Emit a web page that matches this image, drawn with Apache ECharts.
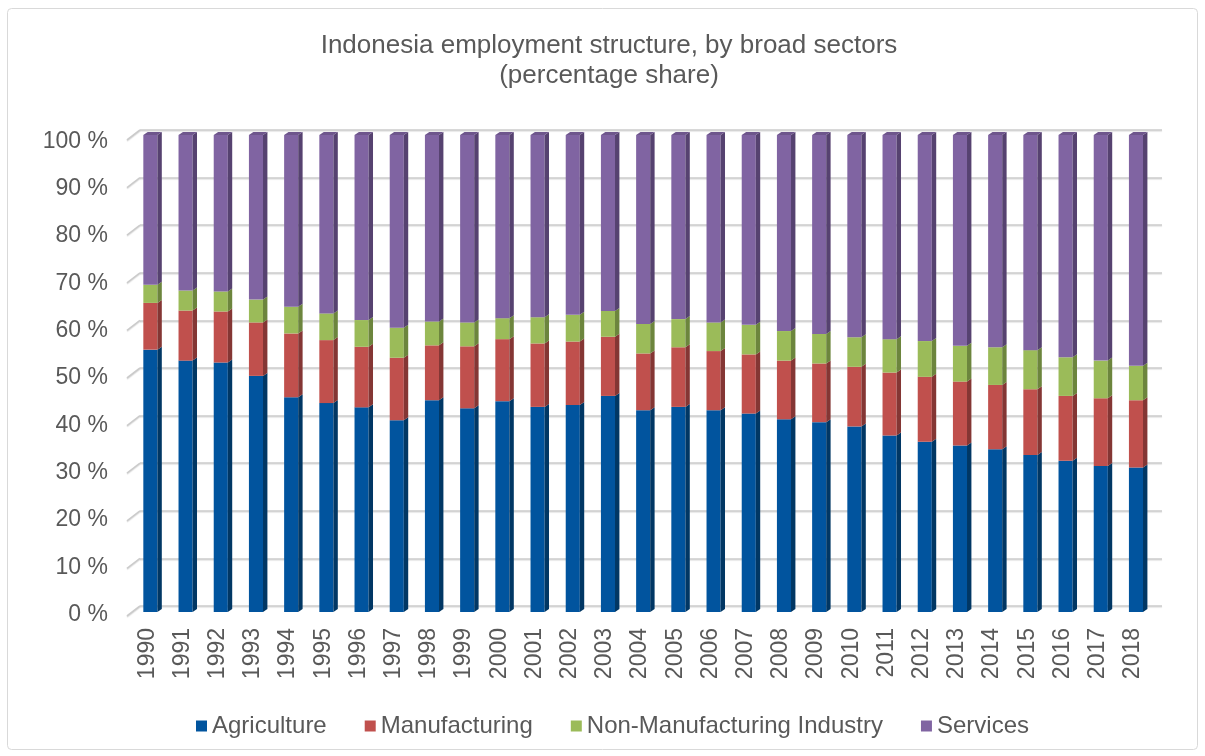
<!DOCTYPE html>
<html>
<head>
<meta charset="utf-8">
<title>Indonesia employment structure</title>
<script src="https://cdn.jsdelivr.net/npm/echarts/dist/echarts.min.js"></script>
<style>
  html, body { margin: 0; padding: 0; background: #ffffff; }
  #chart { width: 1205px; height: 756px; }
</style>
</head>
<body>
<div id="chart"></div>
<script>
// Employment shares by broad sector, percent of total employment
const years = ['1990', '1991', '1992', '1993', '1994', '1995', '1996', '1997', '1998', '1999',
  '2000', '2001', '2002', '2003', '2004', '2005', '2006', '2007', '2008', '2009',
  '2010', '2011', '2012', '2013', '2014', '2015', '2016', '2017', '2018'];
const agriculture = [55.0, 52.7, 52.3, 49.5, 45.0, 43.8, 42.9, 40.2, 44.4, 42.7,
  44.2, 43.0, 43.4, 45.3, 42.3, 43.0, 42.3, 41.6, 40.4, 39.8,
  38.9, 37.0, 35.7, 34.9, 34.1, 32.9, 31.7, 30.6, 30.3];
const manufacturing = [9.8, 10.5, 10.7, 11.2, 13.4, 13.2, 12.7, 13.1, 11.5, 13.0,
  13.0, 13.3, 13.3, 12.4, 11.9, 12.5, 12.4, 12.4, 12.3, 12.3,
  12.5, 13.2, 13.6, 13.4, 13.5, 13.8, 13.6, 14.2, 14.1];
const nonManufacturing = [3.8, 4.2, 4.2, 4.8, 5.6, 5.6, 5.6, 6.3, 5.0, 5.0,
  4.4, 5.5, 5.6, 5.4, 6.2, 5.9, 6.0, 6.2, 6.2, 6.2,
  6.2, 7.0, 7.5, 7.5, 7.9, 8.2, 8.1, 7.9, 7.2];
const services = [31.4, 32.6, 32.8, 34.5, 36.0, 37.4, 38.8, 40.4, 39.1, 39.3,
  38.4, 38.2, 37.7, 36.9, 39.6, 38.6, 39.3, 39.8, 41.1, 41.7,
  42.4, 42.8, 43.2, 44.2, 44.5, 45.1, 46.6, 47.3, 48.4];
const yTicks = [0, 10, 20, 30, 40, 50, 60, 70, 80, 90, 100];

const sectors = [
  { name: 'Agriculture', values: agriculture, face: '#01549E', side: '#013764', top: '#0A4A86' },
  { name: 'Manufacturing', values: manufacturing, face: '#C0504D', side: '#843634', top: '#A94643' },
  { name: 'Non-Manufacturing Industry', values: nonManufacturing, face: '#9BBB59', side: '#6C853D', top: '#88A54D' },
  { name: 'Services', values: services, face: '#8064A2', side: '#564270', top: '#6E568C' }
];

const FONT = '"Liberation Sans", Arial, sans-serif';
const TEXT = '#595959';

// Build [categoryIndex, lower, upper] rows for each stacked segment
const running = years.map(() => 0);
const stacked = sectors.map(s => s.values.map((v, i) => {
  const lo = running[i];
  running[i] = lo + v;
  return [i, lo, lo + v];
}));

// Column segment with a darker right side face and a slanted top cap
function columnRenderer(sector, withCap) {
  return function (params, api) {
    const idx = api.value(0);
    const lo = api.coord([idx, api.value(1)]);
    const hi = api.coord([idx, api.value(2)]);
    const band = api.size([1, 0])[0];
    const w = band * 0.4;
    const x0 = lo[0] - band * 0.11;
    const x1 = x0 + w;
    const dx = band * 0.125;
    const dy = 3;
    const children = [
      { type: 'rect', shape: { x: x0, y: hi[1], width: w, height: lo[1] - hi[1] },
        style: { fill: sector.face } },
      { type: 'polygon', shape: { points: [[x1, hi[1]], [x1 + dx, hi[1] - dy], [x1 + dx, lo[1] - dy], [x1, lo[1]]] },
        style: { fill: sector.side } }
    ];
    if (withCap) {
      children.push({ type: 'polygon',
        shape: { points: [[x0, hi[1]], [x0 + dx, hi[1] - dy], [x1 + dx, hi[1] - dy], [x1, hi[1]]] },
        style: { fill: sector.top } });
    }
    return { type: 'group', children: children };
  };
}

const gridStyle = { color: '#cbcbcb', width: 1.6, shadowColor: 'rgba(0,0,0,0.12)', shadowOffsetY: 1, shadowBlur: 1 };

const columnSeries = sectors.map((s, k) => ({
  name: s.name,
  type: 'custom',
  xAxisIndex: 0,
  yAxisIndex: 0,
  itemStyle: { color: s.face },
  encode: { x: 0, y: [1, 2] },
  data: stacked[k],
  renderItem: columnRenderer(s, k === sectors.length - 1),
  z: 5
}));

// Short diagonal strokes on the left wall, one per gridline
const wallTicks = {
  name: 'wall',
  type: 'custom',
  xAxisIndex: 1,
  yAxisIndex: 1,
  silent: true,
  data: yTicks.map(v => [0, v]),
  encode: { x: 0, y: 1 },
  renderItem: function (params, api) {
    const p = api.coord([0, api.value(1)]);
    return { type: 'line', shape: { x1: p[0] - 13, y1: p[1] + 10, x2: p[0], y2: p[1] },
      style: { stroke: gridStyle.color, lineWidth: 1.6, shadowColor: gridStyle.shadowColor, shadowOffsetY: 1, shadowBlur: 1 } };
  },
  z: 1
};

const chart = echarts.init(document.getElementById('chart'), null, { renderer: 'canvas' });
chart.setOption({
  backgroundColor: '#ffffff',
  animation: false,
  title: {
    text: 'Indonesia employment structure, by broad sectors\n(percentage share)',
    left: 609,
    top: 31,
    padding: 0,
    textAlign: 'center',
    textStyle: { fontFamily: FONT, fontSize: 26, fontWeight: 'normal', color: TEXT, lineHeight: 30 }
  },
  legend: {
    data: sectors.map(s => s.name),
    left: 196,
    top: 714,
    padding: 0,
    icon: 'rect',
    itemWidth: 11,
    itemHeight: 11,
    itemGap: 38,
    textStyle: { fontFamily: FONT, fontSize: 24, color: TEXT }
  },
  graphic: [{
    type: 'rect',
    shape: { x: 7.5, y: 8.5, width: 1190, height: 741, r: 4 },
    style: { fill: 'none', stroke: '#d9d9d9', lineWidth: 1 },
    silent: true,
    z: -10
  }],
  grid: [
    { left: 129.6, right: 54.6, top: 135, bottom: 144, outerBoundsMode: 'none' },
    { left: 140, right: 43, top: 130, bottom: 150, outerBoundsMode: 'none' },
    { left: 120, right: 54.6, top: 141.5, bottom: 141.5, outerBoundsMode: 'none' }
  ],
  xAxis: [
    { gridIndex: 0, type: 'category', data: years, boundaryGap: true,
      axisLine: { show: false }, axisTick: { show: false }, splitLine: { show: false },
      axisLabel: { rotate: 90, margin: 16, interval: 0, fontFamily: FONT, fontSize: 23, color: TEXT } },
    { gridIndex: 1, type: 'value', min: 0, max: 1, show: false },
    { gridIndex: 2, type: 'value', min: 0, max: 1, show: false }
  ],
  yAxis: [
    { gridIndex: 0, type: 'value', min: 0, max: 100, interval: 10, show: false },
    { gridIndex: 1, type: 'value', min: 0, max: 100, interval: 10,
      axisLine: { show: false }, axisTick: { show: false }, axisLabel: { show: false },
      splitLine: { show: true, lineStyle: gridStyle } },
    { gridIndex: 2, type: 'value', min: 0, max: 100, interval: 10,
      axisLine: { show: false }, axisTick: { show: false }, splitLine: { show: false },
      axisLabel: { margin: 12, fontFamily: FONT, fontSize: 23, color: TEXT, formatter: '{value} %' } }
  ],
  series: [wallTicks].concat(columnSeries)
});
</script>
</body>
</html>
